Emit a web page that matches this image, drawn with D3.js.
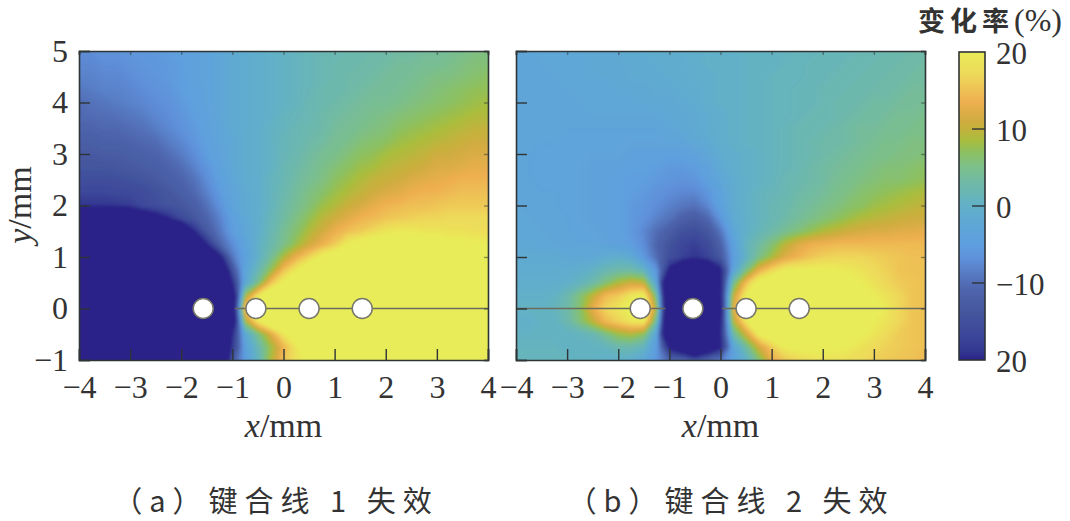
<!DOCTYPE html>
<html>
<head>
<meta charset="utf-8">
<script src="https://cdn.jsdelivr.net/npm/d3@7"></script>
<style>
  html, body { margin: 0; background: #fff; }
  text { font-family: "Liberation Serif", serif; fill: #333; }
</style>
</head>
<body>
<svg id="chart" width="1070" height="521"></svg>
<script>
// sample positions of the rate grids (mm), rows run top to bottom
const xGrid = d3.range(-4, 4.01, 0.25);
const yGrid = d3.range(5, -1.01, -0.25);

const xTicks = [-4, -3, -2, -1, 0, 1, 2, 3, 4];
const yTicks = [-1, 0, 1, 2, 3, 4, 5];
const barTicks = [20, 10, 0, -10, -20];
const barLabels = ['20', '10', '0', '\u221210', '20'];

// bond wires at y = 0
const wireX = [-1.57, -0.54, 0.5, 1.54];
const wireLineA = [[-0.95, 4]];
const wireLineB = [[-4, -1.08], [0.03, 4]];

// change rate (%); values past +-20 are only saturated colour
const rateA = [
  [-7,-7,-6.5,-6.5,-6,-6,-5.5,-5,-4.5,-4,-3.5,-2.5,  -1.5,-1,-.5,0,.5,1,1.5,2,2,  2.5,2.5,3,3,3.5,3.5,4,4,4.5,5,5.5,5.5],
  [-7.5,-7.5,-7,-7,-6.5,-6,-6,-5.5,-5,-4,-3.5,-2.5,  -1.5,-1,-.5,0,.5,1,1.5,2,2.5,  2.5,3,3,3.5,4,4,4.5,4.5,5,5.5,6,6],
  [-8,-8,-7.5,-7.5,-7,-6.5,-6,-5.5,-5,-4,-3.5,-2.5,  -1.5,-1,-.5,0,.5,1,1.5,2,2.5,  3,3,3.5,4,4,4.5,5,5.5,5.5,6,6.5,7],
  [-9,-8.5,-8,-8,-7.5,-7,-6.5,-6,-5,-4.5,-3.5,-2.5,  -1.5,-1,-.5,0,.5,1,1.5,2.5,2.5,  3,3.5,4,4,4.5,5,5.5,6,6.5,7,7.5,7.5],
  [-10,-9.5,-9,-8.5,-8,-7.5,-7,-6.5,-5.5,-4.5,-3.5,-2.5,  -1.5,-1,-.5,0,.5,1,2,2.5,3,  3.5,4,4.5,4.5,5,5.5,6,6.5,7,7.5,8,8.5],
  [-10.5,-10,-10,-9.5,-9,-8.5,-7.5,-7,-6,-5,-4,-2.5,  -1.5,-1,-.5,0,1,1.5,2,3,3.5,  4,4.5,5,5.5,6,6.5,7,7.5,8,8.5,9,9],
  [-11,-11,-10.5,-10.5,-10,-9.5,-8.5,-7.5,-6.5,-5.5,-4,-3,  -1.5,-1,-.5,.5,1,2,2.5,3,4,  4.5,5,5.5,6,7,7.5,8,8.5,9,9.5,10,10],
  [-12,-12,-11.5,-11.5,-11,-10.5,-10,-8.5,-7.5,-6,-4.5,-3,  -2,-1,-.5,.5,1.5,2,3,3.5,4.5,  5,6,6.5,7,8,8.5,9,9.5,10,10.5,11,11],
  [-13,-13,-12.5,-12.5,-12,-11.5,-11,-10,-8.5,-7,-5,-3.5,  -2,-1,-.5,.5,1.5,2.5,3.5,4.5,5,  6,7,7.5,8.5,9,9.5,10,11,11,11.5,12,12],
  [-14,-14,-14,-13.5,-13,-12.5,-12,-11,-10,-8,-6,-4,  -2,-1,-.5,.5,2,3,4,5,6,  7,8,8.5,9.5,10,10.5,11,12,12,12.5,13,13],
  [-15,-15,-15,-15,-14.5,-14,-13,-12,-11,-9.5,-7,-4.5,  -2.5,-1,-.5,1,2,3.5,4.5,5.5,7,  8,9,10,10.5,11,12,12.5,13,13.5,14,14,14],
  [-16.5,-16.5,-16.5,-16,-16,-15.5,-14.5,-13.5,-12,-10.5,-8,-5.5,  -3,-1.5,-.5,1,2.5,4,5.5,6.5,8,  9,10,11,12,12.5,13.5,14,14,14.5,15,15,15],
  [-19,-19,-19,-18.5,-18,-16,-15,-14,-13.5,-12,-9.5,-6.5,  -3.5,-1.5,-.5,1,3,4.5,6,8,9,  10.5,11.5,13,14,14.5,15,15,15.5,16,16,16,16],
  [-40,-40,-40,-40,-40,-26,-23,-20,-16,-13.5,-11,-8,  -4.5,-2,-.5,1.5,3.5,5.5,7.5,9.5,11,  12.5,14,14.5,15.5,16,16.5,17,17,17.5,17.5,17.5,17.5],
  [-40,-40,-40,-40,-40,-40,-40,-40,-32,-20,-13,-9,  -5,-2.5,-.5,2,4.5,6.5,9,11,13.5,  15,16,17.5,19,19.5,19.5,19,19,18.5,18.5,18,18],
  [-40,-40,-40,-40,-40,-40,-40,-40,-40,-35,-20,-11,  -7,-3.5,0,2.5,5,8,11,13.5,16,  20,22,23,23,23,23,22,22,21,21,20.5,20],
  [-40,-40,-40,-40,-40,-40,-40,-40,-40,-40,-36,-22,  -9,-4,0,4,9,13.5,17,21,23,  25,26,26,26,26,26,25,25,24,24,24,24],
  [-40,-40,-40,-40,-40,-40,-40,-40,-40,-40,-40,-34,  -14,-3,2,7.5,15,19.5,24,27,30,  30,30,30,30,30,30,30,30,30,30,30,30],
  [-40,-40,-40,-40,-40,-40,-40,-40,-40,-40,-40,-40,  -20,-2,5,15,21,26,30,32,32,  32,32,32,32,32,32,32,32,32,32,32,32],
  [-40,-40,-40,-40,-40,-40,-40,-40,-40,-40,-40,-40,  -30,8,19,26,30,32,34,34,34,  34,34,34,34,34,34,34,34,34,34,34,34],
  [-40,-40,-40,-40,-40,-40,-40,-40,-40,-40,-40,-40,  -30,16,30,35,38,40,40,40,40,  40,40,40,40,40,40,40,40,40,40,40,40],
  [-40,-40,-40,-40,-40,-40,-40,-40,-40,-40,-40,-40,  -30,8,19,25,27,30,32,34,34,  34,34,34,34,34,34,34,34,34,34,34,34],
  [-40,-40,-40,-40,-40,-40,-40,-40,-40,-40,-40,-40,  -20,-2,5,12,19,23,26,28,30,  30,30,30,30,30,30,30,30,30,30,30,30],
  [-40,-40,-40,-40,-40,-40,-40,-40,-40,-40,-40,-40,  -18,-4,2,8,14,19,23,26,28,  28,28,28,28,28,28,28,28,28,28,28,28],
  [-40,-40,-40,-40,-40,-40,-40,-40,-40,-40,-40,-40,  -13,-5,1,9,15,18.5,21,24,26,  26,26,26,26,26,26,26,26,26,26,26,26]
];

const rateB = [
  [-3,-3,-2.5,-2.5,-2.5,-2,-2,-2,-1.5,-1.5,-1,-1,  -1,-.5,-.5,0,0,0,.5,.5,.5,  1,1,1,1.5,1.5,1.5,2,2,2.5,2.5,3,3],
  [-3,-3,-2.5,-2.5,-2.5,-2.5,-2,-2,-2,-1.5,-1.5,-1,  -1,-1,-.5,0,0,0,.5,.5,.5,  1,1,1.5,1.5,1.5,2,2,2.5,2.5,3,3,3.5],
  [-3,-3,-3,-2.5,-2.5,-2.5,-2,-2,-2,-1.5,-1.5,-1.5,  -1,-1,-.5,-.5,0,0,.5,.5,1,  1,1,1.5,1.5,2,2,2.5,2.5,3,3,3.5,3.5],
  [-3,-3,-3,-3,-2.5,-2.5,-2.5,-2.5,-2,-2,-2,-1.5,  -1.5,-1,-1,-.5,0,0,.5,.5,1,  1,1.5,1.5,2,2,2.5,2.5,3,3,3.5,4,4],
  [-3,-3,-3,-3,-3,-2.5,-2.5,-2.5,-2.5,-2.5,-2,-2,  -2,-1.5,-1,-.5,0,0,.5,.5,1,  1,1.5,1.5,2,2.5,2.5,3,3.5,3.5,4,4,4.5],
  [-3,-3,-3,-3,-3,-3,-2.5,-2.5,-2.5,-2.5,-2.5,-2.5,  -2,-2,-1.5,-1,-.5,0,.5,.5,1,  1,1.5,2,2,2.5,3,3.5,3.5,4,4.5,4.5,5],
  [-3,-3,-3,-3,-3,-3,-3,-3,-3,-3,-3,-3,  -2.5,-2,-1.5,-1,-.5,0,.5,.5,1,  1.5,2,2,2.5,3,3.5,4,4,4.5,4.5,5,5],
  [-3,-3,-3,-3,-3.5,-3.5,-3.5,-3.5,-3.5,-3.5,-3.5,-3.5,  -3,-3,-2,-1.5,-.5,0,.5,.5,1,  1.5,2,2.5,3,3,3.5,4,4.5,5,5,5.5,5.5],
  [-3,-3,-3.5,-3.5,-3.5,-3.5,-3.5,-3.5,-3.5,-4,-4,-4,  -4.5,-4.5,-3.5,-2.5,-1,-.5,0,.5,1,  1.5,2,2.5,3,3.5,4,4.5,5,5,5.5,5.5,6],
  [-3,-3,-3.5,-3.5,-3.5,-3.5,-4,-4,-4,-4.5,-4.5,-5,  -5.5,-5.5,-5,-3.5,-1.5,-.5,0,.5,1,  1.5,2,3,3.5,4,4.5,5,5.5,6,6,6.5,7],
  [-3,-3,-3.5,-3.5,-3.5,-3.5,-4,-4,-4.5,-5,-5,-5.5,  -6,-6.5,-6,-4.5,-2.5,-1,0,.5,1,  2,2.5,3,3.5,4.5,5,5.5,6,6.5,6.5,7,7.5],
  [-3,-3,-3,-3,-3.5,-3.5,-4,-4,-4.5,-5,-5.5,-6.5,  -7,-7.5,-7.5,-6,-3.5,-1,0,1,1.5,  2,3,3.5,4,5,5.5,6.5,7,7.5,8,8.5,9],
  [-2.5,-3,-3,-3,-3.5,-3.5,-4,-4,-4.5,-5.5,-6,-7,  -8,-9,-9.5,-7.5,-4,-1,0,1,2,  2.5,3.5,4,5,5.5,6.5,7,8,8.5,9,9.5,10],
  [-2.5,-2.5,-3,-3,-3,-3.5,-4,-4,-4.5,-5.5,-6.5,-8,  -9.5,-11.5,-12.5,-10.5,-6,-1.5,0,1,2,  3,4,5,6,7,8,9,9.5,10,10.5,11,11],
  [-2.5,-2.5,-2.5,-3,-3,-3.5,-3.5,-4,-4.5,-5.5,-7.5,-10,  -12,-14.5,-15,-13.5,-9,-2.5,0,1.5,3,  4.5,6,7.5,9,10,11,11.5,12,12,12.5,12.5,13],
  [-2,-2,-2.5,-2.5,-3,-3,-3,-3.5,-4,-5,-7,-11,  -14,-16.5,-17.5,-15.5,-11.5,-4,1,3.5,6,  9.5,12,13.5,14,14.5,14.5,14.5,14.5,14.5,14.5,14.5,14.5],
  [-1.5,-1.5,-1.5,-1.5,-2,-2,-2,-1,-.5,-1.5,-5.5,-10,  -15,-17,-19,-17,-13,-5,.5,5,8.5,  12,14,15.5,16.5,17,17,17,16.5,16,15.5,15,15],
  [-1,-1,-1,-1,-1,-.5,.5,2,3,3,1,-6,  -21,-28,-40,-28,-21,-3,5,13,17,  20,20.5,20.5,20.5,20,19.5,18.5,17.5,16.5,15.5,15,15],
  [-.5,-.5,-.5,-.5,0,1,3,6,9,11,10,-3,  -40,-40,-40,-40,-22,4,15,22,24,  24,26,27,27,26,21,20,18.5,17,16,15.5,15],
  [0,0,0,.5,2.5,6,10,14.5,16,19,21,4,  -40,-40,-40,-40,-22,10,20,26,28,  29,30,31,32,31,24,22,20,18.5,17,15.5,15],
  [.5,.5,.5,1,3,6.5,13,17,19,22,25,8,  -40,-40,-40,-40,-24,12,25,30,32,  33,33,33,34,33,27,24,21.5,19.5,17,15.5,15],
  [0,0,.5,.5,2.5,6,10,14.5,16.5,19,20,3,  -40,-40,-40,-40,-22,9,19,25,27,  28,29,29,29,28,24,22,20,18.5,17,15.5,15],
  [.5,.5,.5,.5,.5,1,2,5,8,9,7,-3,  -40,-40,-40,-40,-20,3,11,20,23,  25,26,27,27,26,22,20.5,19,17.5,16,15.5,15],
  [1,1,1,1,.5,.5,.5,1,2.5,2.5,1,-5,  -21,-28,-40,-28,-21,-3,3.5,11,16,  20,21,21,21,20.5,20,18.5,17.5,16.5,16,15.5,15],
  [1,1,1,1,1,.5,.5,0,0,-.5,-2,-6,  -11,-11,-14,-11,-9,-4,0,6,13,  15.5,17,18,18.5,18.5,18,17.5,16.5,16,15.5,15,14.5]
];

// colour bar stops
const colorValues = [-20, -19, -17, -14, -11, -9, -7, -5, -2, 0, 1, 3, 5, 7, 8.5, 10, 11, 13.5, 17, 20];
const colorHexes = ['#2a2088', '#333690', '#3b4598', '#44559e', '#4e64ac', '#5678c0', '#5e8fd8', '#5e9fdf', '#5ea8d4', '#62b0c8',
  '#66b4bc', '#6fb9a8', '#7cbf8a', '#8cc060', '#a8bd3e', '#c4b23c', '#d0ac40', '#eeaf50', '#eed85a', '#e8ec58'];

const color = d3.scaleLinear().domain(colorValues).range(colorHexes).clamp(true);
const svg = d3.select('#chart');
const minus = d => String(d).replace('-', '\u2212');

const defs = svg.append('defs');
defs.append('filter').attr('id', 'soft')
  .attr('x', '-5%').attr('y', '-5%').attr('width', '110%').attr('height', '110%')
  .append('feGaussianBlur').attr('stdDeviation', 1.4);

function drawPanel(id, left, rows, wireLine, showY) {
  const right = left + 409, top = 51, bottom = 360;
  const x = d3.scaleLinear().domain([-4, 4]).range([left, right]);
  const y = d3.scaleLinear().domain([-1, 5]).range([bottom, top]);
  const g = svg.append('g');

  defs.append('clipPath').attr('id', 'clip' + id)
    .append('rect').attr('x', left).attr('y', top).attr('width', right - left).attr('height', bottom - top);

  // filled bands from the grid
  const n = xGrid.length, m = yGrid.length;
  const gx = d3.scaleLinear().domain([0.5, n - 0.5]).range([x(xGrid[0]), x(xGrid[n - 1])]);
  const gy = d3.scaleLinear().domain([0.5, m - 0.5]).range([y(yGrid[0]), y(yGrid[m - 1])]);
  const path = d3.geoPath(d3.geoTransform({
    point(px, py) { this.stream.point(gx(px), gy(py)); }
  }));
  const bands = d3.contours().size([n, m]).thresholds(d3.range(-20, 20.01, 0.25))(rows.flat());

  const heat = g.append('g').attr('clip-path', `url(#clip${id})`).append('g').attr('filter', 'url(#soft)');
  heat.append('rect').attr('x', left - 6).attr('y', top - 6)
    .attr('width', right - left + 12).attr('height', bottom - top + 12).attr('fill', color(-20));
  heat.selectAll('path').data(bands).join('path')
    .attr('d', path)
    .attr('fill', d => color(d.value));

  // wire line and bond points
  g.selectAll('.wire').data(wireLine).join('line').attr('class', 'wire')
    .attr('x1', d => x(d[0])).attr('x2', d => x(d[1]))
    .attr('y1', y(0)).attr('y2', y(0))
    .attr('stroke', '#6b6b5e').attr('stroke-width', 1.5);
  g.selectAll('circle').data(wireX).join('circle')
    .attr('cx', d => x(d)).attr('cy', y(0)).attr('r', 10)
    .attr('fill', '#fff').attr('stroke', '#77776a').attr('stroke-width', 1.5);

  // axes, ticks point inwards
  const bottomAxis = g.append('g').attr('transform', `translate(0,${bottom})`)
    .call(d3.axisBottom(x).tickValues(xTicks).tickSize(-11).tickPadding(15).tickFormat(minus));
  const leftAxis = g.append('g').attr('transform', `translate(${left},0)`)
    .call(d3.axisLeft(y).tickValues(yTicks).tickSize(-11).tickPadding(11).tickFormat(showY ? minus : ''));
  const topAxis = g.append('g').attr('transform', `translate(0,${top})`)
    .call(d3.axisTop(x).tickValues(xTicks).tickSize(-4).tickFormat(''));
  const rightAxis = g.append('g').attr('transform', `translate(${right},0)`)
    .call(d3.axisRight(y).tickValues(yTicks).tickSize(-4).tickFormat(''));

  [bottomAxis, leftAxis, topAxis, rightAxis].forEach(a => {
    a.select('.domain').attr('stroke', '#2f3436').attr('stroke-width', 1.6);
    a.selectAll('.tick line').attr('stroke', '#2f3436').attr('stroke-width', 1.4);
    a.selectAll('.tick text').attr('font-family', null).attr('font-size', 32)
      .style('font-family', '"Liberation Serif", serif').style('fill', '#333');
  });
  topAxis.selectAll('.tick line').attr('stroke-opacity', 0.5);
  rightAxis.selectAll('.tick line').attr('stroke-opacity', 0.5);

  const xLabel = g.append('text').attr('x', (left + right) / 2).attr('y', 437)
    .attr('text-anchor', 'middle').attr('font-size', 34);
  xLabel.append('tspan').attr('font-style', 'italic').text('x');
  xLabel.append('tspan').text('/mm');
}

drawPanel('A', 79, rateA, wireLineA, true);
drawPanel('B', 516, rateB, wireLineB, false);

const yLabel = svg.append('text').attr('transform', 'translate(31,205) rotate(-90)')
  .attr('text-anchor', 'middle').attr('font-size', 34);
yLabel.append('tspan').attr('font-style', 'italic').text('y');
yLabel.append('tspan').text('/mm');

// colour bar
const barY = d3.scaleLinear().domain([-20, 20]).range([360, 52]);
const grad = defs.append('linearGradient').attr('id', 'barFill')
  .attr('x1', 0).attr('x2', 0).attr('y1', 1).attr('y2', 0);
grad.selectAll('stop').data(colorValues).join('stop')
  .attr('offset', d => (d + 20) / 40)
  .attr('stop-color', d => color(d));

const bar = svg.append('g');
bar.append('rect').attr('x', 959).attr('y', barY(20)).attr('width', 26).attr('height', barY(-20) - barY(20))
  .attr('fill', 'url(#barFill)').attr('stroke', '#2f3436').attr('stroke-width', 1.6);
bar.selectAll('line').data(barTicks.slice(1, 4)).join('line')
  .attr('x1', 972).attr('x2', 985).attr('y1', d => barY(d)).attr('y2', d => barY(d))
  .attr('stroke', '#2f3436').attr('stroke-width', 1.4);
bar.selectAll('text').data(barTicks).join('text')
  .attr('x', 996)
  .attr('y', d => barY(d)).attr('dy', '0.38em').attr('font-size', 31)
  .text((d, i) => barLabels[i]);

const title = svg.append('text').attr('x', 918).attr('y', 31).attr('font-size', 32);
title.append('tspan').attr('font-weight', 700).attr('font-size', 27).attr('letter-spacing', 5)
  .style('font-family', '"Noto Sans CJK SC"').text('变化率');
title.append('tspan').text('(%)');

// sub captions
const captions = [['（a）键合线 1 失效', 276], ['（b）键合线 2 失效', 731]];
svg.selectAll('.caption').data(captions).join('text').attr('class', 'caption')
  .attr('x', d => d[1]).attr('y', 512)
  .attr('text-anchor', 'middle').attr('font-size', 29).attr('letter-spacing', 7)
  .style('font-family', '"Noto Sans CJK SC"')
  .text(d => d[0]);
</script>
</body>
</html>
